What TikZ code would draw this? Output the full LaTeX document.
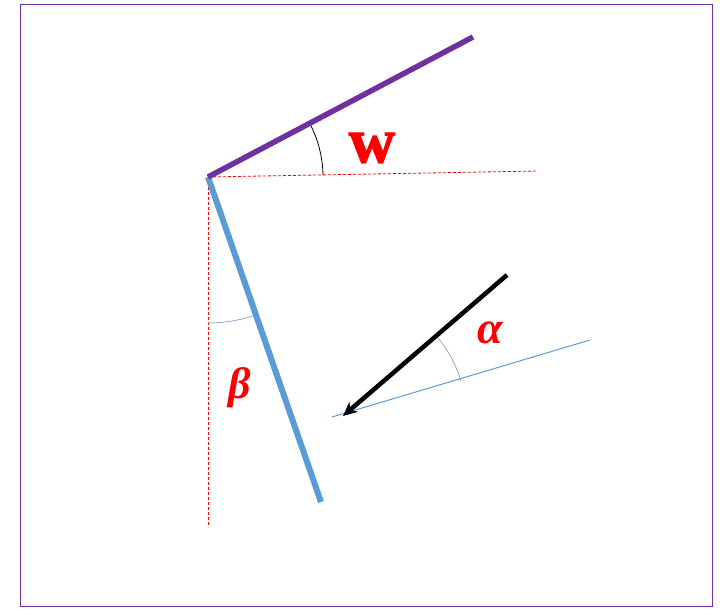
\documentclass[tikz,border=0pt]{standalone}
\usepackage{fontspec}
\setmainfont{Liberation Serif}
\newfontfamily\wfont[FakeBold=2]{Liberation Serif Bold}
\usetikzlibrary{arrows.meta}
\definecolor{purp}{HTML}{7030A0}
\definecolor{steel}{HTML}{5B9BD5}
\definecolor{arcblue}{HTML}{8EA9C8}
\tikzset{
  refline/.style={red, line width=0.8pt, dash pattern=on 3pt off 2pt},
  thinarc/.style={line width=0.8pt},
  lbl/.style={text=red, inner sep=0pt}
}
\begin{document}
\begin{tikzpicture}[x=1pt,y=1pt]
\useasboundingbox (0,0) rectangle (720,610);
\draw[purp, line width=1pt] (20.5,3) rectangle (712,605);
% coordinates
\coordinate (P) at (208,433);
\coordinate (purEnd) at (473,573);
\coordinate (hEnd) at (538,439);
\coordinate (vEnd) at (208,83);
\coordinate (blueEnd) at (321,108);
\coordinate (arrStart) at (507,335);
\coordinate (arrTip) at (343,194);
\coordinate (lnStart) at (332,193);
\coordinate (lnEnd) at (590,270);
% reference lines
\draw[refline] (P) -- (hEnd);
\draw[refline] (P) -- (vEnd);
% angle arcs
\draw[thinarc, black] (P) ++(1:115) arc[start angle=1, end angle=27.8, radius=115];
\draw[thinarc, arcblue] (P) ++(-90:146) arc[start angle=-90, end angle=-70.8, radius=146];
\draw[thinarc, arcblue] (arrTip) ++(16.6:123) arc[start angle=16.6, end angle=40.7, radius=123];
% blue thin line
\draw[steel, line width=1pt] (lnStart) -- (lnEnd);
% thick lines
\draw[steel, line width=6pt] (P) -- (blueEnd);
\draw[purp, line width=5.5pt] (P) -- (purEnd);
% arrow
\draw[black, line width=4.5pt, -{Stealth[length=14pt, width=13pt]}] (arrStart) -- (arrTip);
% labels
\node[lbl, font=\fontsize{64}{64}\selectfont\wfont] (w) at (372,462) {w};
\node[lbl, font=\fontsize{44}{44}\selectfont\bfseries\itshape] (beta) at (240,222) {β};
\node[lbl, font=\fontsize{46}{46}\selectfont\bfseries\itshape] (alpha) at (490,277) {α};
\end{tikzpicture}
\end{document}
